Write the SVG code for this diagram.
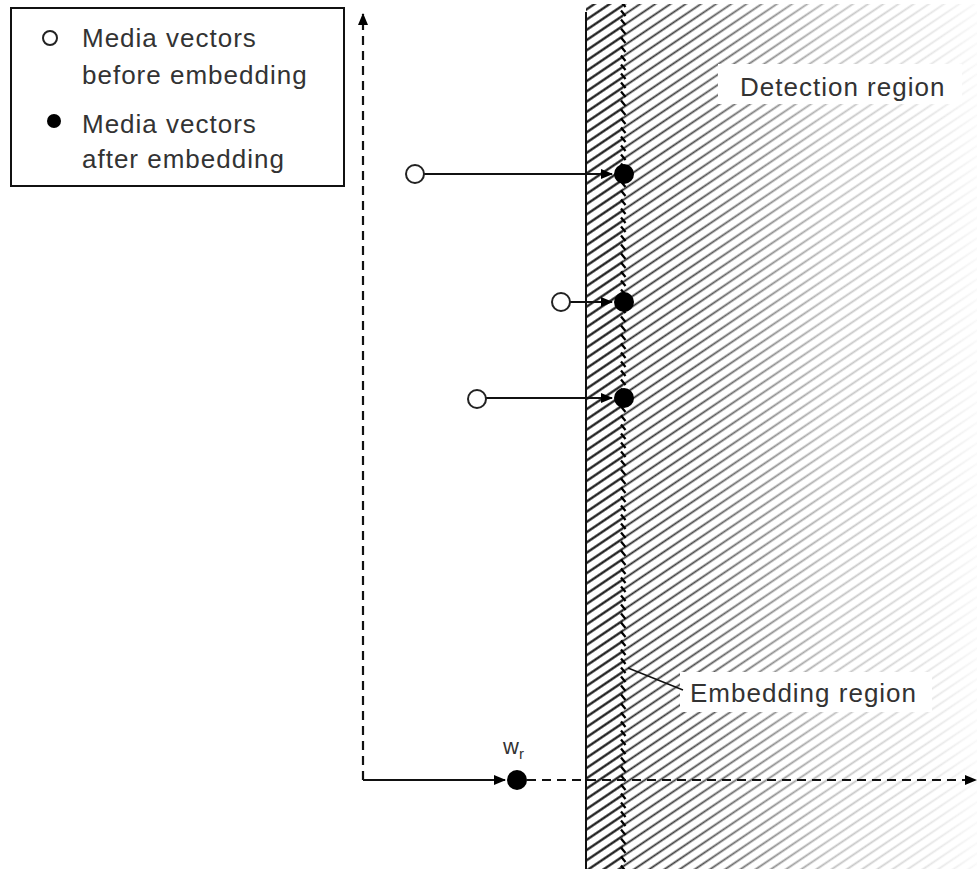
<svg xmlns="http://www.w3.org/2000/svg" width="977" height="869" viewBox="0 0 977 869">
<style>
.t{font-family:"Liberation Sans",Arial,sans-serif;font-size:26px;letter-spacing:1px;fill:#333;}
.ln{stroke:#111;stroke-width:2;fill:none;}
.dash{stroke:#111;stroke-width:2.2;fill:none;stroke-dasharray:9,6;}
.open{fill:#fff;stroke:#222;stroke-width:2;}
.fill{fill:#000;}
</style>
<defs>
<pattern id="hatch" patternUnits="userSpaceOnUse" width="10" height="8.5" patternTransform="rotate(-34)">
<line x1="-1" y1="4.25" x2="11" y2="4.25" stroke="#222" stroke-width="1.8"/>
</pattern>
<pattern id="hatchD" patternUnits="userSpaceOnUse" width="10" height="8.5" patternTransform="rotate(-34)">
<line x1="-1" y1="4.25" x2="11" y2="4.25" stroke="#111" stroke-width="2.2"/>
</pattern>
<pattern id="ticks" patternUnits="userSpaceOnUse" x="619" y="0" width="10" height="9">
<line x1="2" y1="1.5" x2="6.5" y2="7" stroke="#000" stroke-width="2.2"/>
</pattern>
<linearGradient id="fade" x1="623" y1="0" x2="977" y2="0" gradientUnits="userSpaceOnUse">
<stop offset="0" stop-color="#fff" stop-opacity="1"/>
<stop offset="0.22" stop-color="#fff" stop-opacity="0.8"/>
<stop offset="0.58" stop-color="#fff" stop-opacity="0.3"/>
<stop offset="0.9" stop-color="#fff" stop-opacity="0.1"/>
<stop offset="1" stop-color="#fff" stop-opacity="0.03"/>
</linearGradient>
<mask id="m"><rect x="623" y="0" width="354" height="869" fill="url(#fade)"/></mask>
<marker id="ah" markerWidth="12" markerHeight="10" refX="11" refY="5" orient="auto" markerUnits="userSpaceOnUse">
<path d="M0,0 L12,5 L0,10 z" fill="#000"/>
</marker>
</defs>
<rect width="977" height="869" fill="#fff"/>
<g id="regions">
<rect x="586" y="4" width="37" height="865" fill="url(#hatchD)"/>
<rect x="623" y="4" width="354" height="865" fill="url(#hatch)" mask="url(#m)"/>
<rect x="619" y="4" width="9" height="865" fill="url(#ticks)"/>
<line x1="586" y1="12" x2="586" y2="869" class="ln"/>
</g>
<g id="legend">
<rect x="11" y="8" width="333" height="178" fill="#fff" stroke="#111" stroke-width="2"/>
<circle cx="50" cy="38" r="7" class="open"/>
<text x="82" y="47" class="t">Media vectors</text>
<text x="82" y="84" class="t">before embedding</text>
<circle cx="54" cy="121" r="7" class="fill"/>
<text x="82" y="133" class="t">Media vectors</text>
<text x="82" y="168" class="t">after embedding</text>
</g>
<g id="labels">
<rect x="718" y="64" width="244" height="40" fill="#fff"/>
<text x="740" y="96" class="t">Detection region</text>
<rect x="680" y="672" width="252" height="40" fill="#fff"/>
<text x="690" y="702" class="t">Embedding region</text>
</g>
<g id="connectors">
<line x1="363" y1="780" x2="363" y2="14" class="dash" marker-end="url(#ah)"/>
<line x1="363" y1="780" x2="505" y2="780" class="ln" marker-end="url(#ah)"/>
<line x1="527" y1="780" x2="976" y2="780" class="dash" marker-end="url(#ah)"/>
<line x1="424" y1="174" x2="612" y2="174" class="ln" marker-end="url(#ah)"/>
<line x1="570" y1="302" x2="612" y2="302" class="ln" marker-end="url(#ah)"/>
<line x1="486" y1="398" x2="612" y2="398" class="ln" marker-end="url(#ah)"/>
<line x1="628" y1="668" x2="683" y2="690" stroke="#111" stroke-width="1.5"/>
</g>
<g id="v1"><circle cx="415" cy="174" r="9" class="open"/><circle cx="624" cy="174" r="10" class="fill"/></g>
<g id="v2"><circle cx="561" cy="302" r="9" class="open"/><circle cx="624" cy="302" r="10" class="fill"/></g>
<g id="v3"><circle cx="477" cy="399" r="9" class="open"/><circle cx="624" cy="398" r="10" class="fill"/></g>
<g id="wr">
<circle cx="517" cy="780" r="10" class="fill"/>
<text x="503" y="754" class="t" style="font-size:22px;letter-spacing:0">w<tspan font-size="15" dy="5">r</tspan></text>
</g>
</svg>
